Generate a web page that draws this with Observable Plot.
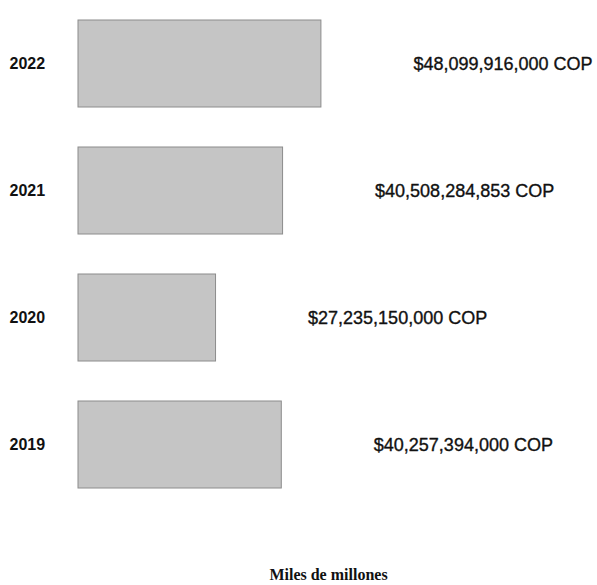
<!DOCTYPE html>
<html>
<head>
<meta charset="utf-8">
<script src="https://cdn.jsdelivr.net/npm/d3@7"></script>
<script src="https://cdn.jsdelivr.net/npm/@observablehq/plot@0.6"></script>
<style>
  html, body { margin: 0; padding: 0; background: #fff; }
</style>
</head>
<body>
<div id="chart"></div>
<script>
const years = ["2022", "2021", "2020", "2019"];
const values = [48.099916, 40.508284853, 27.23515, 40.257394]; // miles de millones COP
const labels = ["$48,099,916,000 COP", "$40,508,284,853 COP", "$27,235,150,000 COP", "$40,257,394,000 COP"];
const axisLabel = "Miles de millones";

const data = years.map((y, i) => ({year: y, value: values[i], label: labels[i]}));

const chart = Plot.plot({
  width: 597,
  height: 585,
  marginLeft: 78,
  marginRight: 14,
  marginTop: 19,
  marginBottom: 95,
  x: {domain: [0, 100], axis: null},
  y: {domain: years, axis: null, paddingInner: 0.3125, paddingOuter: 0},
  marks: [
    Plot.barX(data, {x: "value", y: "year", fill: "#c5c5c5", stroke: "#8c8c8c", strokeWidth: 1}),
    Plot.text(data, {x: "value", y: "year", text: "label", dx: 92, textAnchor: "start",
      fontFamily: "Liberation Sans, Arial, sans-serif", fontSize: 18, fill: "#111",
      stroke: "#111", strokeWidth: 0.35}),
    Plot.text(data, {y: "year", text: "year", frameAnchor: "left", dx: -69, textAnchor: "start",
      fontFamily: "Liberation Sans, Arial, sans-serif", fontWeight: "bold", fontSize: 16, fill: "#111"}),
    Plot.text([axisLabel], {text: d => d, frameAnchor: "bottom-left", dx: 250, dy: 89, textAnchor: "middle",
      fontFamily: "Liberation Serif, Times New Roman, serif", fontWeight: "bold", fontSize: 16, fill: "#111"})
  ]
});
document.getElementById("chart").appendChild(chart);
</script>
</body>
</html>
